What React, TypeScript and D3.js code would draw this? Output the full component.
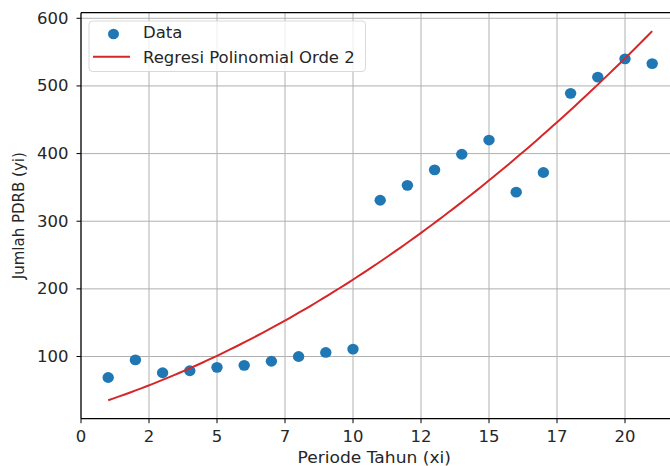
import React from "react";
import * as d3 from "d3";

const periods = [1, 2, 3, 4, 5, 6, 7, 8, 9, 10, 11, 12, 13, 14, 15, 16, 17, 18, 19, 20, 21];
const pdrb = [69, 95, 76, 79, 84, 87, 93, 100, 106, 111, 331, 353, 376, 399, 420, 343, 372, 489, 513, 540, 533];
const xTickValues = [0, 2.5, 5, 7.5, 10, 12.5, 15, 17.5, 20];
const xTickLabels = ["0", "2", "5", "7", "10", "12", "15", "17", "20"];
const yTickValues = [100, 200, 300, 400, 500, 600];
const legendLabels = ["Data", "Regresi Polinomial Orde 2"];

function fitQuadratic(xs: number[], ys: number[]) {
  const S = [0, 0, 0, 0, 0];
  const T = [0, 0, 0];
  xs.forEach((x, i) => {
    for (let k = 0; k < 5; k++) S[k] += Math.pow(x, k);
    for (let k = 0; k < 3; k++) T[k] += ys[i] * Math.pow(x, k);
  });
  const M = [
    [S[0], S[1], S[2], T[0]],
    [S[1], S[2], S[3], T[1]],
    [S[2], S[3], S[4], T[2]],
  ];
  for (let i = 0; i < 3; i++) {
    let p = i;
    for (let r = i + 1; r < 3; r++) if (Math.abs(M[r][i]) > Math.abs(M[p][i])) p = r;
    [M[i], M[p]] = [M[p], M[i]];
    for (let r = 0; r < 3; r++) {
      if (r === i) continue;
      const f = M[r][i] / M[i][i];
      for (let c = i; c < 4; c++) M[r][c] -= f * M[i][c];
    }
  }
  const coef = [M[0][3] / M[0][0], M[1][3] / M[1][1], M[2][3] / M[2][2]];
  return (x: number) => coef[0] + coef[1] * x + coef[2] * x * x;
}

export default function App() {
  const W = 670, H = 466;
  const left = 81, top = 12.7, bottom = 418.7, right = 679.4;
  const f = fitQuadratic(periods, pdrb);
  const xs = d3.range(0, 100).map((i) => 1 + (20 * i) / 99);
  const curve = xs.map((x) => [x, f(x)] as [number, number]);
  const ext = d3.extent([...pdrb, ...curve.map((d) => d[1])]) as [number, number];
  const pad = (ext[1] - ext[0]) * 0.05;

  const x = d3.scaleLinear().domain([0, 22]).range([left, right]);
  const y = d3.scaleLinear().domain([ext[0] - pad, ext[1] + pad]).range([bottom, top]);
  const line = d3.line<[number, number]>().x((d) => x(d[0])).y((d) => y(d[1]));

  const font = "DejaVu Sans";
  const fs = 15;
  const sx = 1.1;
  const blue = "#1f77b4";
  const red = "#d62728";
  const tc = "#262626";

  const T = (props: { x: number; y: number; anchor?: string; s?: number; children: React.ReactNode }) => (
    <text
      transform={`translate(${props.x},${props.y}) scale(${props.s ?? sx},1)`}
      textAnchor={props.anchor ?? "start"}
      fontSize={fs}
      fill={tc}
    >
      {props.children}
    </text>
  );

  return (
    <svg width={W} height={H} style={{ position: "absolute", left: 0, top: 0 }} fontFamily={font}>
      <rect x={0} y={0} width={W} height={H} fill="#fff" />
      <defs>
        <clipPath id="plot">
          <rect x={left} y={top} width={right - left} height={bottom - top} />
        </clipPath>
      </defs>
      {xTickValues.map((v) => (
        <line key={"gx" + v} x1={x(v)} x2={x(v)} y1={top} y2={bottom} stroke="#b0b0b0" strokeWidth={1} />
      ))}
      {yTickValues.map((v) => (
        <line key={"gy" + v} x1={left} x2={right} y1={y(v)} y2={y(v)} stroke="#b0b0b0" strokeWidth={1} />
      ))}
      <g clipPath="url(#plot)">
        {periods.map((p, i) => (
          <ellipse key={i} cx={x(p)} cy={y(pdrb[i])} rx={5.7} ry={5.4} fill={blue} />
        ))}
        <path d={line(curve) || ""} fill="none" stroke={red} strokeWidth={2} />
      </g>
      <line x1={left} x2={left} y1={top} y2={bottom} stroke="#000" strokeWidth={1.2} />
      <line x1={left} x2={right} y1={bottom} y2={bottom} stroke="#000" strokeWidth={1.2} />
      <line x1={left} x2={right} y1={top} y2={top} stroke="#000" strokeWidth={1.2} />
      <line x1={right} x2={right} y1={top} y2={bottom} stroke="#000" strokeWidth={1.2} />
      {xTickValues.map((v, i) => (
        <g key={"xt" + v}>
          <line x1={x(v)} x2={x(v)} y1={bottom} y2={bottom + 4.5} stroke="#000" strokeWidth={1} />
          <T x={x(v)} y={bottom + 23} anchor="middle">{xTickLabels[i]}</T>
        </g>
      ))}
      {yTickValues.map((v) => (
        <g key={"yt" + v}>
          <line x1={left - 4.5} x2={left} y1={y(v)} y2={y(v)} stroke="#000" strokeWidth={1} />
          <T x={left - 12.5} y={y(v) + 5.4} anchor="end">{v}</T>
        </g>
      ))}
      <T x={(left + right) / 2 - 6} y={463} anchor="middle" s={1.14}>Periode Tahun (xi)</T>
      <text
        transform={`translate(23.5, ${(top + bottom) / 2}) rotate(-90)`}
        textAnchor="middle"
        fontSize={fs}
        fill={tc}
      >
        Jumlah PDRB (yi)
      </text>
      <rect x={89} y={21} width={276.5} height={50.5} rx={3.5} fill="#fff" fillOpacity={0.8} stroke="#d9d9d9" strokeWidth={1} />
      <ellipse cx={113.5} cy={34} rx={5.5} ry={5.2} fill={blue} />
      <T x={143} y={38.3}>{legendLabels[0]}</T>
      <line x1={93} x2={130} y1={56.7} y2={56.7} stroke={red} strokeWidth={2} />
      <T x={143} y={63}>{legendLabels[1]}</T>
    </svg>
  );
}
